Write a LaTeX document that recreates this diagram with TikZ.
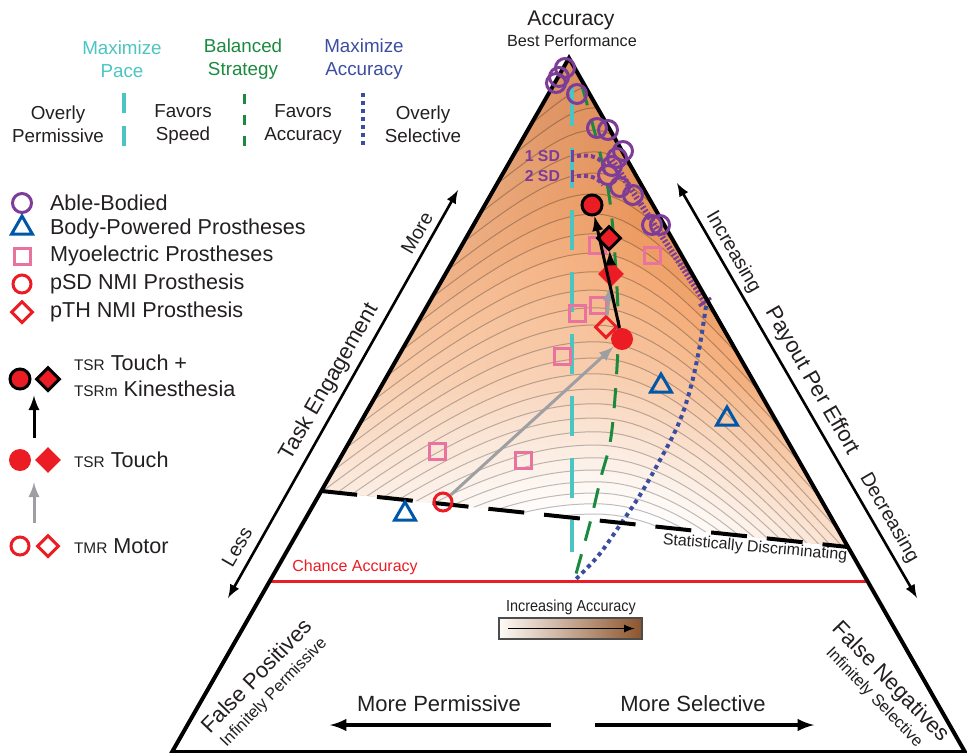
\documentclass[tikz,border=0pt]{standalone}
\usepackage{fontspec}
\setmainfont{Liberation Sans}
\usetikzlibrary{shapes.geometric,calc,fadings}
\definecolor{txtgray}{RGB}{35,31,32}
\definecolor{pacecyan}{RGB}{75,197,193}
\definecolor{balgreen}{RGB}{27,138,63}
\definecolor{accblue}{RGB}{59,77,160}
\definecolor{abpurple}{RGB}{125,60,152}
\definecolor{bpblue}{RGB}{0,87,168}
\definecolor{myopink}{RGB}{233,115,158}
\definecolor{nmired}{RGB}{236,28,36}
\definecolor{arrgray}{RGB}{157,159,162}
\definecolor{orbase}{RGB}{242,160,100}
\definecolor{ordk}{RGB}{200,115,65}
\definecolor{barbrown}{RGB}{140,85,45}

\begin{document}
\begin{tikzpicture}
  [x=0.5pt, y=-0.5pt,
  every node/.append style={text=txtgray},
  legtxt/.style={anchor=west, font=\fontsize{10.8}{13}\selectfont},
  keytxt/.style={align=center, font=\fontsize{9.4}{11.5}\selectfont},
  sidetxt/.style={font=\fontsize{9.8}{12}\selectfont},
  axistxt/.style={font=\fontsize{11}{13}\selectfont},
  cornertxt/.style={align=center, font=\fontsize{11}{10.5}\selectfont},
  sdtxt/.style={anchor=east, text=abpurple, font=\bfseries\fontsize{7.9}{9}\selectfont},
  tribord/.style={draw=black, line width=2pt, line join=miter},
  sidearrow/.style={draw=black, latex-latex, line width=1.3pt},
  bigarrow/.style={draw=black, -latex, line width=1.8pt},
  sdline/.style={draw=black, line width=2pt, dash pattern=on 18pt off 10pt},
  contour/.style={draw=black, draw opacity=0.25, line width=0.5pt},
  paceline/.style={draw=pacecyan, line width=1.6pt},
  balline/.style={draw=balgreen, line width=1.5pt},
  accline/.style={draw=accblue, line width=2pt, dash pattern=on 2pt off 2pt},
  abody/.style={circle, draw=abpurple, line width=1.5pt, minimum size=9.5pt, inner sep=0pt},
  bpow/.style={regular polygon, regular polygon sides=3, draw=bpblue, line width=1.5pt, minimum size=12pt, inner sep=0pt},
  myo/.style={rectangle, draw=myopink, line width=1.5pt, minimum size=8pt, inner sep=0pt},
  sdmot/.style={circle, draw=nmired, line width=1.5pt, minimum size=9pt, inner sep=0pt},
  sdtch/.style={circle, fill=nmired, minimum size=11pt, inner sep=0pt},
  sdkin/.style={circle, fill=nmired, draw=black, line width=1.5pt, minimum size=10pt, inner sep=0pt},
  thmot/.style={diamond, draw=nmired, line width=1.5pt, minimum size=11pt, inner sep=0pt},
  thtch/.style={diamond, fill=nmired, minimum size=13pt, inner sep=0pt},
  thkin/.style={diamond, fill=nmired, draw=black, line width=1.5pt, minimum size=12pt, inner sep=0pt},
  gline/.style={draw=arrgray, -latex, line width=1.5pt},
  kline/.style={draw=black, -latex, line width=1.5pt}]
  \useasboundingbox (0,0) rectangle (967,752);
  % triangle corners
  \coordinate (apex) at (569,58);
  \coordinate (bl) at (172,752);
  \coordinate (br) at (965,752);
  \coordinate (sdL) at ($(apex)!0.6239!(bl)$);
  \coordinate (sdR) at ($(apex)!0.7046!(br)$);
  \coordinate (chL) at ($(apex)!0.7536!(bl)$);
  \coordinate (chR) at ($(apex)!0.7536!(br)$);
  % shaded accuracy bands and contours
  \begin{scope}
    \clip (apex) -- (sdL) -- (sdR) -- cycle;
    \foreach \k in {24,23,...,-2} {
      \pgfmathsetmacro\pk{130+22*\k-0.25*\k*\k}
      \pgfmathsetmacro\ak{0.5*(\pk-40)}
      \pgfmathsetmacro\tk{(\k+2)/26}
      \pgfmathtruncatemacro\pc{100*min(1,(1-\tk)*1.35)}
      \pgfmathtruncatemacro\dk{max(0,60*(0.35-\tk)/0.35)}
      \fill[ordk!\dk!orbase!\pc!white]
        (150,0) -- plot[domain=170:975, samples=90]
        (\x, {\pk-\ak+100*sqrt((\ak/100)^2+(ifthenelse(\x<595,0.9,1.25)*(\x-595)/100)^2)})
        -- (990,0) -- cycle;
    }
    \fill[white, path fading=east, fill opacity=0.45] (321,58) rectangle (640,547);
    \fill[white, path fading=north, fill opacity=0.5] (321,380) rectangle (850,547);
    \foreach \k in {24,23,...,-2} {
      \pgfmathsetmacro\pk{130+22*\k-0.25*\k*\k}
      \pgfmathsetmacro\ak{0.5*(\pk-40)}
      \draw[contour] plot[domain=170:975, samples=90]
        (\x, {\pk-\ak+100*sqrt((\ak/100)^2+(ifthenelse(\x<595,0.9,1.25)*(\x-595)/100)^2)});
    }
  \end{scope}
  % strategy lines
  \draw[paceline, dash pattern=on 20pt off 11pt] (572,86) -- (572,552);
  \draw[balline, dash pattern=on 10pt off 7pt] plot[smooth, tension=0.6] coordinates
    {(582,86) (600,153) (611,210) (618,310) (617,367) (611,437) (601,477) (590,523) (574,581)};
  \draw[accline] plot[smooth, tension=0.6] coordinates
    {(706,306) (699,350) (690,390) (678,425) (660,460) (640,495) (620,525) (598,556) (574,581)};
  % SD range
  \coordinate (sdTop) at (612,160);
  \coordinate (sdEnd) at (705,302);
  \draw[abpurple, line width=3pt, dash pattern=on 1pt off 1pt] (sdTop) -- (sdEnd);
  \draw[abpurple, line width=1.5pt] ($(sdEnd)+(-6,4)$) -- ($(sdEnd)+(6,-4)$);
  \node[sdtxt] (sd1) at (567,156) {1 SD};
  \node[sdtxt] (sd2) at (567,176) {2 SD};
  \draw[abpurple, line width=1.5pt] (572,150) -- (572,162);
  \draw[abpurple, line width=1.5pt] (572,170) -- (572,182);
  \draw[abpurple, line width=2pt, dash pattern=on 2pt off 1.5pt] (577,156) .. controls (593,154) and (601,158) .. (606,168);
  \draw[abpurple, line width=2pt, dash pattern=on 2pt off 1.5pt] (577,176) .. controls (590,175) and (597,177) .. (603,185);
  % borders
  \draw[sdline] (sdL) -- (sdR);
  \draw[nmired, line width=1.5pt] (chL) -- (chR);
  \draw[tribord] (apex) -- (br) -- (bl) -- cycle;
  % able-bodied
  \foreach \px/\py [count=\i] in {565/68, 559/77, 556/83, 577/94, 597/128, 608/130, 623/151,
      617/158, 612/166, 608/175, 620/187, 633/195, 652/225, 660/225}
    \node[abody] (ab\i) at (\px,\py) {};
  % body-powered
  \node[bpow] (bp1) at (405,514) {};
  \node[bpow] (bp2) at (661,386) {};
  \node[bpow] (bp3) at (727,419) {};
  % myoelectric
  \foreach \px/\py [count=\i] in {597/245, 652/255, 598/305, 577/313, 562/356, 437/451, 523/460}
    \node[myo] (my\i) at (\px,\py) {};
  % NMI prosthesis
  \node[sdmot] (sdm) at (443,502) {};
  \node[sdtch] (sdt) at (622,339) {};
  \node[sdkin] (sdk) at (592,205) {};
  \node[thmot] (thm) at (606,327) {};
  \node[thtch] (tht) at (611,274) {};
  \node[thkin] (thk) at (609,238) {};
  \draw[gline] (sdm) -- (sdt);
  \draw[gline] (thm) -- (tht);
  \draw[kline] (sdt) -- (sdk);
  \draw[kline] (tht) -- (thk);
  % labels in the triangle
  \node[font=\fontsize{10.6}{12}\selectfont] (acc) at (571,20) {Accuracy};
  \node[font=\fontsize{8.1}{10}\selectfont] (best) at (572,41) {Best Performance};
  \node[text=nmired, font=\fontsize{8}{10}\selectfont] (chance) at (355,567) {Chance Accuracy};
  \node[rotate=-5, font=\fontsize{8}{10}\selectfont] (stat) at (755,548) {Statistically Discriminating};
  % side axes
  \coordinate (teLess) at (228,598);
  \coordinate (teMore) at (458,190);
  \coordinate (ppeUp) at (677,183);
  \coordinate (ppeDown) at (917,598);
  \draw[sidearrow] (teLess) -- (teMore);
  \draw[sidearrow] (ppeUp) -- (ppeDown);
  \node[sidetxt, rotate=60] at (417,233) {More};
  \node[axistxt, rotate=60] at (330,382) {Task Engagement};
  \node[sidetxt, rotate=60] at (237,547) {Less};
  \node[sidetxt, rotate=-60] at (733,252) {Increasing};
  \node[axistxt, rotate=-60] at (812,381) {Payout Per Effort};
  \node[sidetxt, rotate=-60] at (889,518) {Decreasing};
  % bottom
  \node[cornertxt, rotate=46] (fpos) at (265,684)
    {False Positives\\{\fontsize{8.2}{10}\selectfont Infinitely Permissive}};
  \node[cornertxt, rotate=-46] (fneg) at (883,689)
    {False Negatives\\{\fontsize{8.2}{10}\selectfont Infinitely Selective}};
  \node[axistxt] (mperm) at (439,704) {More Permissive};
  \node[axistxt] (msel) at (693,704) {More Selective};
  \coordinate (permA) at (551,725);
  \coordinate (permB) at (330,725);
  \coordinate (selA) at (595,725);
  \coordinate (selB) at (814,725);
  \draw[bigarrow] (permA) -- (permB);
  \draw[bigarrow] (selA) -- (selB);
  \node[font=\fontsize{8}{10}\selectfont] (incacc) at (571,607) {\scalebox{0.9}[1]{Increasing Accuracy}};
  \node[draw=black!70, line width=0.6pt, minimum width=71.5pt, minimum height=10.5pt, inner sep=0pt,
    left color=white!95!orbase, middle color=orbase, right color=barbrown] (accbar) at (570.5,628.5) {};
  \draw[-latex, line width=0.8pt] ([xshift=5pt]accbar.west) -- ([xshift=-4pt]accbar.east);
  % strategy key
  \node[keytxt, text=pacecyan] (hpace) at (122,59) {Maximize\\Pace};
  \node[keytxt, text=balgreen] (hbal) at (243,59) {Balanced\\Strategy};
  \node[keytxt, text=accblue] (hacc) at (364,59) {Maximize\\Accuracy};
  \node[keytxt] (kperm) at (58,124) {Overly\\Permissive};
  \node[keytxt] (kspeed) at (183,124) {Favors\\Speed};
  \node[keytxt] (kfacc) at (303,124) {Favors\\Accuracy};
  \node[keytxt] (ksel) at (423,124) {Overly\\Selective};
  \draw[paceline, dash pattern=on 10pt off 6.5pt] (124,93) -- (124,147);
  \draw[balline, dash pattern=on 5pt off 5.5pt] (244,94) -- (244,146);
  \draw[accline] (363,93) -- (363,147);
  % marker key
  \node[abody] (lgab) at (22,203) {};
  \node[legtxt] at (43,203) {Able-Bodied};
  \node[bpow] (lgbp) at (22,228) {};
  \node[legtxt] at (43,229) {Body-Powered Prostheses};
  \node[myo] (lgmy) at (22,256) {};
  \node[legtxt] at (43,256) {Myoelectric Prostheses};
  \node[sdmot] (lgsd) at (22,284) {};
  \node[legtxt] at (43,284) {pSD NMI Prosthesis};
  \node[thmot] (lgth) at (22,312) {};
  \node[legtxt] at (43,312) {pTH NMI Prosthesis};
  % feedback key
  \node[sdkin] (lgkc) at (20,379) {};
  \node[thkin] (lgkd) at (48,379) {};
  \node[legtxt] at (67,363) {{\fontsize{7.7}{9}\selectfont TSR} Touch +};
  \node[legtxt] at (67,389) {{\fontsize{7.7}{9}\selectfont TSRm} Kinesthesia};
  \node[sdtch] (lgtc) at (20,460) {};
  \node[thtch] (lgtd) at (48,460) {};
  \node[legtxt] at (67,460) {{\fontsize{7.7}{9}\selectfont TSR} Touch};
  \node[sdmot] (lgmc) at (20,546) {};
  \node[thmot] (lgmd) at (48,546) {};
  \node[legtxt] at (67,546) {{\fontsize{7.7}{9}\selectfont TMR} Motor};
  \draw[kline, shorten <=5pt, shorten >=2pt] ($(lgtc.north)!0.5!(lgtd.north)$) -- ($(lgkc.south)!0.5!(lgkd.south)$);
  \draw[gline, shorten <=6pt, shorten >=5pt] ($(lgmc.north)!0.5!(lgmd.north)$) -- ($(lgtc.south)!0.5!(lgtd.south)$);
\end{tikzpicture}
\end{document}
